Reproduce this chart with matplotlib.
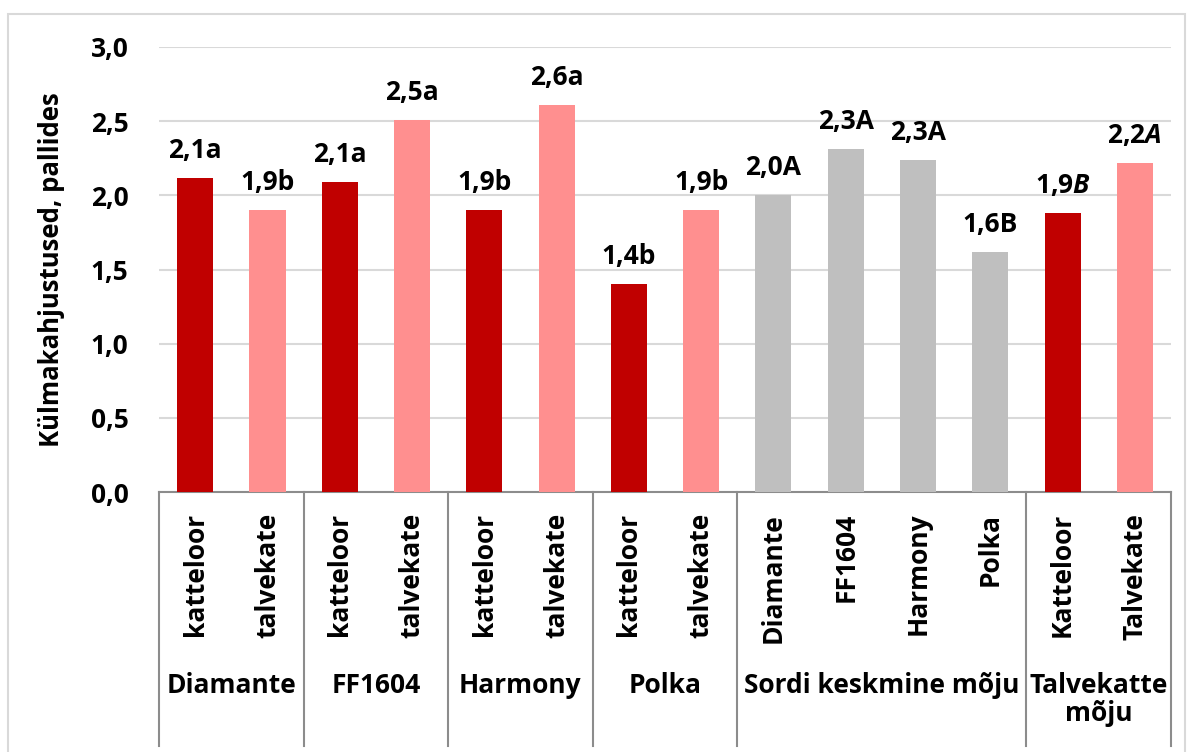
import matplotlib.pyplot as plt
from matplotlib.patches import Rectangle

plt.rcParams['font.family'] = ['Open Sans', 'DejaVu Sans']
plt.rcParams['mathtext.fontset'] = 'custom'
plt.rcParams['mathtext.it'] = 'Open Sans:italic:bold'
plt.rcParams['mathtext.rm'] = 'Open Sans:bold'

# andmed
kategooriad = ['katteloor', 'talvekate', 'katteloor', 'talvekate', 'katteloor', 'talvekate',
               'katteloor', 'talvekate', 'Diamante', 'FF1604', 'Harmony', 'Polka',
               'Katteloor', 'Talvekate']
vaartused = [2.12, 1.90, 2.09, 2.51, 1.90, 2.61, 1.40, 1.90, 2.00, 2.31, 2.24, 1.62, 1.88, 2.22]
sildid = ['2,1a', '1,9b', '2,1a', '2,5a', '1,9b', '2,6a', '1,4b', '1,9b',
          '2,0A', '2,3A', '2,3A', '1,6B', '1,9$\\mathit{B}$', '2,2$\\mathit{A}$']
grupid = ['Diamante', 'FF1604', 'Harmony', 'Polka', 'Sordi keskmine mõju', 'Talvekatte\nmõju']
grupi_piirid = [0, 2, 4, 6, 8, 12, 14]
y_ticks = [0.0, 0.5, 1.0, 1.5, 2.0, 2.5, 3.0]
y_sildid = ['0,0', '0,5', '1,0', '1,5', '2,0', '2,5', '3,0']

tume = '#C00000'
hele = '#FF8F8F'
hall = '#BFBFBF'
varvid = [tume, hele] * 4 + [hall] * 4 + [tume, hele]

FS = 19

fig = plt.figure(figsize=(11.88, 7.52), dpi=100)
W, H = 1188, 752
ax = fig.add_axes([159 / W, (H - 492) / H, 1012 / W, 445 / H])

# välimine raam
fig.patches.append(Rectangle((8 / W, -0.1), 1177 / W, 0.1 + (H - 14) / H, transform=fig.transFigure,
                             fill=False, edgecolor='#D9D9D9', linewidth=1.5))

x = list(range(len(kategooriad)))
ax.bar(x, vaartused, width=0.5, color=varvid, zorder=3)

for xi, v, s in zip(x, vaartused, sildid):
    ax.annotate(s, xy=(xi, v), xytext=(0, 20), textcoords='offset pixels',
                ha='center', va='baseline', fontsize=FS, fontweight='bold')

ax.set_xlim(-0.5, len(kategooriad) - 0.5)
ax.set_ylim(0, 3.0)
ax.set_yticks(y_ticks)
ax.set_yticklabels(y_sildid, fontsize=FS, fontweight='bold')
ax.tick_params(axis='y', length=0, pad=22)
ax.grid(axis='y', color='#D9D9D9', linewidth=1.5, zorder=0)

ax.set_xticks(x)
ax.set_xticklabels(kategooriad, rotation=90, fontsize=FS, fontweight='bold', va='top')
ax.tick_params(axis='x', length=0, pad=15)

for sp in ['left', 'right', 'top']:
    ax.spines[sp].set_visible(False)
ax.spines['bottom'].set_color('#8C8C8C')
ax.spines['bottom'].set_linewidth(1.5)

ax.set_ylabel('Külmakahjustused, pallides', fontsize=18.5, fontweight='bold')
ax.yaxis.set_label_coords(-0.093, 0.5)

# grupi eraldusjooned ja nimed
tr = ax.get_xaxis_transform()
for p in grupi_piirid:
    ax.plot([p - 0.5, p - 0.5], [0, -0.57], transform=tr, color='#8C8C8C', linewidth=1.5, clip_on=False)
for g, a, b in zip(grupid, grupi_piirid[:-1], grupi_piirid[1:]):
    ax.text((a + b) / 2 - 0.5, -0.405, g, transform=tr, ha='center', va='top',
            fontsize=FS, fontweight='bold', linespacing=1.05)

fig.savefig('out.png', dpi=100)
